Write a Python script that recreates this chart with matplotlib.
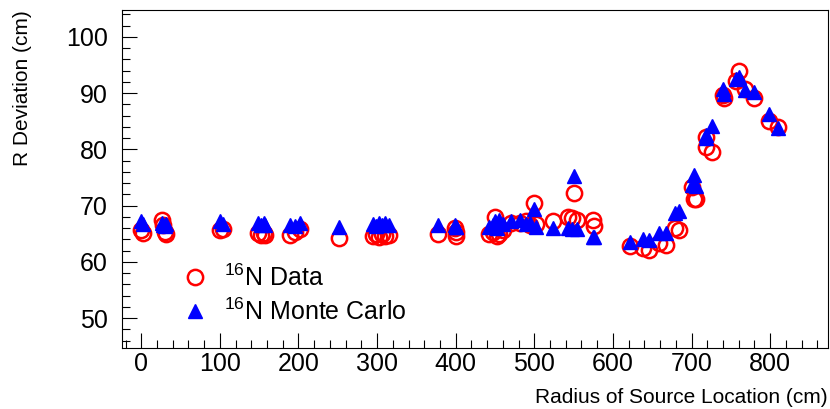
import matplotlib
matplotlib.use("Agg")
import matplotlib.pyplot as plt
from matplotlib.ticker import MultipleLocator

plt.rcParams['font.family'] = ['Liberation Sans', 'DejaVu Sans']
plt.rcParams['mathtext.default'] = 'regular'

# radius of source location (cm), data and MC R deviation (cm)
radius = [0, 2, 27, 28, 30, 31, 100, 104, 149, 152, 156, 158, 189, 196, 202,
          251, 295, 299, 302, 306, 310, 315, 378, 399, 400, 401,
          442, 447, 450, 452, 455, 460, 470, 482, 490, 494, 500, 502,
          524, 543, 548, 551, 554, 575, 576,
          622, 638, 646, 659, 667, 679, 684, 700, 703, 706,
          718, 719, 726, 740, 741, 757, 760, 768, 779, 799, 810]
data_dev = [65.7, 65.1, 67.5, 66.6, 65.4, 65.0, 65.7, 65.9, 65.1, 64.8, 65.1, 64.8, 64.8, 65.4, 65.8,
            64.2, 64.7, 65.0, 64.5, 64.9, 64.6, 64.8, 65.0, 66.0, 64.6, 65.3,
            64.9, 65.4, 68.0, 64.6, 65.0, 65.6, 66.9, 66.9, 67.2, 66.5, 70.4, 66.8,
            67.2, 68.0, 67.8, 72.3, 67.5, 67.4, 66.4,
            62.9, 62.5, 62.1, 63.4, 63.0, 66.0, 65.7, 73.4, 71.2, 71.2,
            80.5, 82.2, 79.6, 89.7, 89.1, 92.1, 94.0, 90.7, 89.1, 85.0, 84.0]
mc_dev = [67.2, 66.8, 66.9, 66.5, 66.4, 66.7, 67.2, 66.8, 66.9, 66.5, 66.9, 66.6, 66.6, 66.4, 66.9,
          66.3, 66.8, 66.4, 67.0, 66.6, 66.9, 66.5, 66.6, 66.6, 66.2, 66.3,
          66.2, 66.5, 67.2, 66.0, 67.5, 66.8, 67.2, 67.5, 66.8, 67.0, 69.5, 66.2,
          66.0, 66.0, 65.8, 75.2, 65.9, 64.5, 64.5,
          63.6, 64.1, 63.9, 65.2, 65.1, 68.7, 69.0, 73.7, 75.5, 73.5,
          82.0, 82.6, 84.2, 90.7, 89.9, 92.5, 92.8, 90.6, 90.3, 86.3, 83.8]

fig = plt.figure(figsize=(8.3, 4.09), dpi=100)
ax = fig.add_axes([0.147, 0.149, 0.8506, 0.8266])

ax.plot(radius, data_dev, 'o', ms=11, mfc='none', mec='red', mew=1.8,
        label=r'$^{16}$N Data')
ax.plot(radius, mc_dev, '^', ms=10, color='blue', mec='blue',
        label=r'$^{16}$N Monte Carlo')

ax.set_xlim(-24.5, 873.6)
ax.set_ylim(44.7, 104.8)
ax.xaxis.set_major_locator(MultipleLocator(100))
ax.xaxis.set_minor_locator(MultipleLocator(20))
ax.yaxis.set_major_locator(MultipleLocator(10))
ax.yaxis.set_minor_locator(MultipleLocator(2))
ax.tick_params(which='both', direction='in', top=False, right=False, labelsize=18)
ax.tick_params(axis='x', which='both', pad=3)
ax.tick_params(axis='y', which='both', pad=10)
ax.tick_params(which='major', length=11, width=0.8)
ax.tick_params(which='minor', length=5.5, width=0.8)
ax.set_yticks([50, 60, 70, 80, 90, 100])

ax.set_xlabel('Radius of Source Location (cm)', fontsize=15, loc='right')
ax.set_ylabel('R Deviation (cm)', fontsize=15, loc='top')
ax.yaxis.set_label_coords(-0.128, 1.0)
ax.xaxis.set_label_coords(1.0, -0.118)

ax.legend(loc='upper left', bbox_to_anchor=(0.05, 0.285), frameon=False,
          fontsize=18, handletextpad=0.15, labelspacing=0.32, borderpad=0)

fig.savefig('out.png', dpi=100)
